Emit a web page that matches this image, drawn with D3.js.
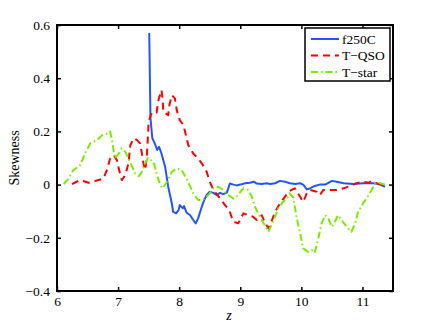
<!DOCTYPE html>
<html><head><meta charset="utf-8">
<script src="https://cdn.jsdelivr.net/npm/d3@7"></script>
<style>body{margin:0;background:#fff}svg{display:block}svg text{font-family:"Liberation Serif","Times New Roman",serif;fill:#000}</style>
</head><body><svg id="c" width="436" height="328"></svg>
<script>
const seriesNames = ["f250C", "T\u2212QSO", "T\u2212star"];
const xTicks = [6, 7, 8, 9, 10, 11];
const yTicks = [-0.4, -0.2, 0, 0.2, 0.4, 0.6];

const f250C = [[7.51,0.57],[7.53,0.25],[7.56,0.175],[7.60,0.155],[7.64,0.13],[7.67,0.142],[7.71,0.117],[7.77,0.067],[7.82,-0.008],[7.88,-0.071],[7.90,-0.102],[7.95,-0.108],[7.99,-0.096],[8.01,-0.077],[8.06,-0.089],[8.08,-0.081],[8.12,-0.105],[8.18,-0.115],[8.23,-0.133],[8.27,-0.146],[8.31,-0.127],[8.37,-0.083],[8.41,-0.058],[8.45,-0.039],[8.50,-0.027],[8.56,-0.031],[8.61,-0.039],[8.67,-0.031],[8.72,-0.036],[8.78,-0.03],[8.83,0.004],[8.89,0.0],[8.94,-0.003],[9.0,0.0],[9.08,0.005],[9.16,0.007],[9.22,0.011],[9.27,0.004],[9.35,0.002],[9.43,0.005],[9.49,0.002],[9.57,0.005],[9.65,0.014],[9.73,0.011],[9.81,0.005],[9.90,0.002],[9.98,0.005],[10.03,0.0],[10.09,-0.018],[10.14,-0.014],[10.22,-0.005],[10.30,0.0],[10.39,0.0],[10.50,0.014],[10.58,0.011],[10.69,0.005],[10.85,0.002],[11.01,0.005],[11.18,0.005],[11.29,0.0],[11.37,-0.008]];

const tQSO = [[6.245,0.002],[6.38,0.017],[6.52,0.007],[6.63,0.014],[6.76,0.023],[6.82,0.057],[6.87,0.098],[6.93,0.111],[6.98,0.092],[7.01,0.061],[7.06,0.017],[7.12,0.036],[7.17,0.08],[7.20,0.148],[7.255,0.174],[7.31,0.167],[7.36,0.155],[7.39,0.117],[7.42,0.073],[7.445,0.055],[7.47,0.105],[7.49,0.186],[7.50,0.236],[7.55,0.271],[7.63,0.271],[7.66,0.318],[7.71,0.355],[7.73,0.318],[7.74,0.274],[7.82,0.261],[7.84,0.299],[7.88,0.336],[7.93,0.324],[7.96,0.28],[8.01,0.242],[8.07,0.224],[8.15,0.148],[8.23,0.117],[8.31,0.098],[8.37,0.08],[8.45,0.048],[8.50,0.011],[8.56,-0.02],[8.67,-0.052],[8.75,-0.077],[8.82,-0.096],[8.885,-0.14],[8.97,-0.145],[9.05,-0.108],[9.13,-0.115],[9.21,-0.121],[9.27,-0.133],[9.35,-0.115],[9.40,-0.14],[9.46,-0.165],[9.51,-0.14],[9.57,-0.102],[9.65,-0.071],[9.73,-0.046],[9.79,-0.027],[9.84,-0.02],[9.895,-0.014],[9.98,-0.046],[10.03,-0.065],[10.09,-0.033],[10.14,-0.02],[10.25,-0.027],[10.30,-0.04],[10.36,-0.02],[10.47,-0.02],[10.58,-0.02],[10.69,-0.014],[10.80,-0.005],[10.90,0.005],[10.99,0.011],[11.10,0.007],[11.15,0.014],[11.23,0.005],[11.31,0.0],[11.37,-0.008]];

const tStar = [[6.11,0.002],[6.19,0.023],[6.27,0.055],[6.38,0.073],[6.46,0.117],[6.545,0.155],[6.655,0.167],[6.74,0.186],[6.82,0.192],[6.87,0.2],[6.90,0.167],[6.93,0.123],[6.95,0.098],[7.01,0.117],[7.06,0.136],[7.12,0.123],[7.17,0.098],[7.23,0.067],[7.28,0.042],[7.34,0.032],[7.39,0.048],[7.43,0.073],[7.49,0.1],[7.58,0.086],[7.63,0.042],[7.69,-0.002],[7.73,-0.014],[7.80,0.011],[7.88,0.048],[7.96,0.061],[8.04,0.055],[8.12,0.023],[8.23,-0.033],[8.31,-0.058],[8.39,-0.058],[8.48,-0.039],[8.56,-0.014],[8.64,-0.008],[8.72,-0.02],[8.80,-0.039],[8.885,-0.052],[8.94,-0.045],[9.05,-0.014],[9.13,-0.02],[9.19,-0.046],[9.24,-0.083],[9.32,-0.121],[9.40,-0.152],[9.46,-0.177],[9.51,-0.152],[9.57,-0.121],[9.62,-0.089],[9.70,-0.065],[9.79,-0.046],[9.81,-0.033],[9.87,-0.05],[9.92,-0.121],[9.98,-0.183],[10.03,-0.24],[10.11,-0.253],[10.17,-0.246],[10.22,-0.256],[10.28,-0.2],[10.33,-0.146],[10.39,-0.115],[10.44,-0.127],[10.50,-0.159],[10.55,-0.14],[10.60,-0.115],[10.66,-0.133],[10.74,-0.159],[10.82,-0.177],[10.88,-0.146],[10.93,-0.102],[11.01,-0.071],[11.10,-0.04],[11.18,-0.008],[11.23,0.007],[11.29,0.005],[11.37,0.0]];

const colors = ["#2255ff", "#ff0000", "#77ee00"];
const dashes = [null, "7,5", "7,3,1.5,3"];
const allSeries = [f250C, tQSO, tStar];

const svg = d3.select("#c");
const L = 57, R = 393, T = 25, B = 291;
const x = d3.scaleLinear().domain([6, 11.5]).range([L, R]);
const y = d3.scaleLinear().domain([-0.4, 0.6]).range([B, T]);

const line = d3.line().x(d => x(d[0])).y(d => y(d[1]));
allSeries.forEach((s, i) => {
  svg.append("path").datum(s).attr("d", line)
    .attr("fill", "none").attr("stroke", colors[i]).attr("stroke-width", 2)
    .attr("stroke-dasharray", dashes[i]).attr("stroke-linejoin", "round");
});

const fmt = d => d === 0 ? "0" : d3.format(".1f")(d);
const gb = svg.append("g").attr("transform", `translate(0,${B})`)
  .call(d3.axisBottom(x).tickValues(xTicks).tickSizeInner(-4).tickSizeOuter(0).tickPadding(4).tickFormat(d3.format("d")));
const gt = svg.append("g").attr("transform", `translate(0,${T})`)
  .call(d3.axisTop(x).tickValues(xTicks).tickSizeInner(-4).tickSizeOuter(0).tickFormat(""));
const gl = svg.append("g").attr("transform", `translate(${L},0)`)
  .call(d3.axisLeft(y).tickValues(yTicks).tickSizeInner(-4).tickSizeOuter(0).tickPadding(7).tickFormat(fmt));
const gr = svg.append("g").attr("transform", `translate(${R},0)`)
  .call(d3.axisRight(y).tickValues(yTicks).tickSizeInner(-4).tickSizeOuter(0).tickFormat(""));
[gb, gt, gl, gr].forEach(g => {
  g.select(".domain").remove();
  g.selectAll(".tick line").attr("stroke", "#000").attr("stroke-width", 1.5);
  g.selectAll("text").attr("font-size", 13.5).attr("fill", "#000");
});
gb.selectAll("text").attr("dy", "0.85em");

svg.append("rect").attr("x", L).attr("y", T).attr("width", R - L).attr("height", B - T)
  .attr("fill", "none").attr("stroke", "#000").attr("stroke-width", 2);

svg.append("text").attr("x", 229).attr("y", 320).attr("text-anchor", "middle")
  .attr("font-size", 14).attr("font-style", "italic").text("z");
svg.append("text").attr("transform", "translate(19,158) rotate(-90)").attr("text-anchor", "middle")
  .attr("font-size", 14).text("Skewness");

const lg = svg.append("g");
lg.append("rect").attr("x", 305).attr("y", 28).attr("width", 85).attr("height", 53)
  .attr("fill", "#fff").attr("stroke", "#000").attr("stroke-width", 1.5);
seriesNames.forEach((n, i) => {
  const yy = 39 + i * 16.5;
  lg.append("line").attr("x1", 311).attr("x2", 339).attr("y1", yy).attr("y2", yy)
    .attr("stroke", colors[i]).attr("stroke-width", 2).attr("stroke-dasharray", dashes[i]);
  lg.append("text").attr("x", 342).attr("y", yy).attr("dy", "0.35em")
    .attr("font-size", 13.5).text(n);
});
</script></body></html>
